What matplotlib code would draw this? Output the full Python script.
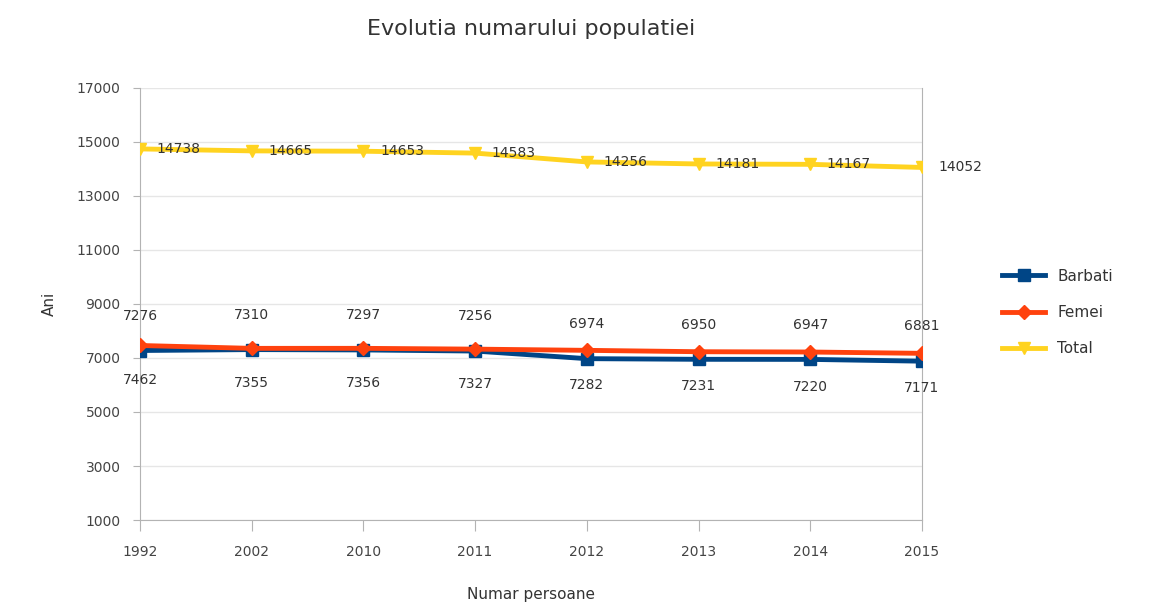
import matplotlib
matplotlib.use("Agg")
import matplotlib.pyplot as plt

years = ["1992", "2002", "2010", "2011", "2012", "2013", "2014", "2015"]
barbati = [7276, 7310, 7297, 7256, 6974, 6950, 6947, 6881]
femei = [7462, 7355, 7356, 7327, 7282, 7231, 7220, 7171]
total = [14738, 14665, 14653, 14583, 14256, 14181, 14167, 14052]
yticks = [1000, 3000, 5000, 7000, 9000, 11000, 13000, 15000, 17000]

fig = plt.figure(figsize=(11.5, 6.14), dpi=100)
ax = fig.add_axes([0.1217, 0.153, 0.68, 0.704])
x = list(range(len(years)))

ax.plot(x, barbati, color="#004586", lw=3.5, marker="s", ms=8, label="Barbati", zorder=3)
ax.plot(x, femei, color="#ff420e", lw=3.5, marker="D", ms=7, label="Femei", zorder=4)
ax.plot(x, total, color="#ffd320", lw=3.5, marker="v", ms=8, label="Total", zorder=3)

lab = dict(fontsize=10, color="#333333")
for i in x:
    ax.annotate(str(barbati[i]), (i, barbati[i]), xytext=(0, 20), textcoords="offset points",
                ha="center", va="bottom", **lab)
    ax.annotate(str(femei[i]), (i, femei[i]), xytext=(0, -20), textcoords="offset points",
                ha="center", va="top", **lab)
    ax.annotate(str(total[i]), (i, total[i]), xytext=(12, 0), textcoords="offset points",
                ha="left", va="center", **lab)

ax.set_xlim(0, len(years) - 1)
ax.set_ylim(1000, 17000)
ax.set_yticks(yticks)
ax.set_xticks(x)
ax.set_xticklabels(years)
ax.tick_params(colors="#444444", labelsize=10)
ax.tick_params(axis="y", length=5, pad=9, color="#b3b3b3")
ax.tick_params(axis="x", length=8, pad=10, color="#b3b3b3")
ax.grid(axis="y", color="#e6e6e6", lw=1)
ax.set_axisbelow(True)
ax.spines["top"].set_visible(False)
for s in ["left", "bottom", "right"]:
    ax.spines[s].set_color("#b3b3b3")

ax.set_title("Evolutia numarului populatiei", fontsize=16, color="#333333", pad=38)
ax.set_xlabel("Numar persoane", fontsize=11, color="#333333", labelpad=20)
ax.set_ylabel("Ani", fontsize=11, color="#333333", labelpad=14)

ax.legend(loc="center left", bbox_to_anchor=(1.085, 0.48), frameon=False, fontsize=11,
          handlelength=2.8, labelspacing=1.4, labelcolor="#333333")

fig.savefig("out.png", dpi=100)
